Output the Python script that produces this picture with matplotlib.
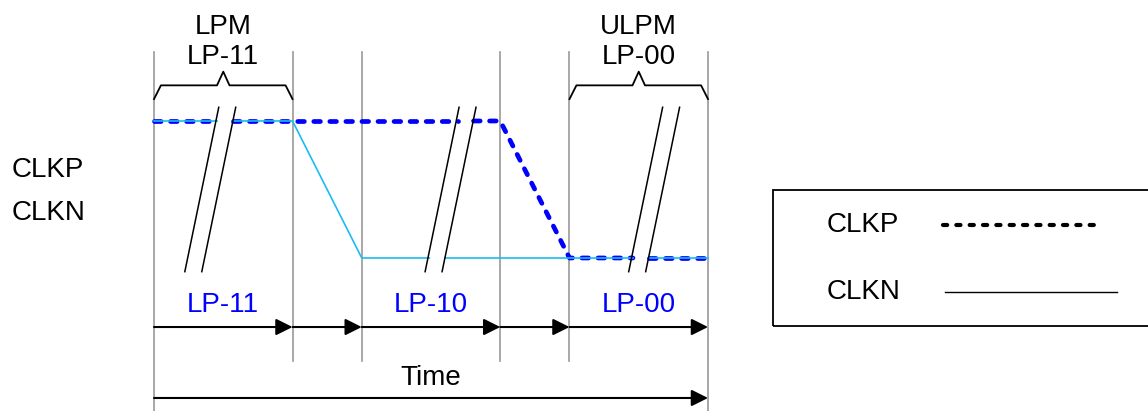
import matplotlib.pyplot as plt
from matplotlib.patches import Rectangle

plt.rcParams['font.family'] = ['Liberation Sans', 'DejaVu Sans']

# timeline (time units), signal levels: 1 = high, 0 = low
phase_edges = [0, 2, 3, 5, 6, 8]
phase_labels = ['LP-11', '', 'LP-10', '', 'LP-00']
clkp_t = [0, 5, 6, 8]
clkp_v = [1, 1, 0, 0]
clkn_t = [0, 2, 3, 8]
clkn_v = [1, 1, 0, 0]
break_t = [0.81, 4.28, 7.22]
bracket_phase = [0, 4]
bracket_text = ['LPM\nLP-11', 'ULPM\nLP-00']

BLUE = '#0000FF'
CYAN = '#19BDF0'
GRAY = '#999999'
FS = 20

fig = plt.figure(figsize=(11.48, 4.11), dpi=100)
ax = fig.add_axes([0, 0, 1, 1])
ax.set_xlim(-2.224, 14.354)
ax.set_ylim(-1.117, 1.883)
ax.axis('off')

# vertical phase boundaries
for i, t in enumerate(phase_edges):
    bottom = -1.12 if i in (0, len(phase_edges) - 1) else -0.752
    ax.plot([t, t], [bottom, 1.504], color=GRAY, lw=1.2, zorder=1)


def split_at_breaks(ts, vs):
    # cut the polyline around each break mark
    segs = []
    cur_t, cur_v = [ts[0]], [vs[0]]
    for k in range(1, len(ts)):
        t0, t1 = ts[k - 1], ts[k]
        v = vs[k]
        if vs[k - 1] == v:
            for b in break_t:
                bx = b + 0.49 * (v - 0.5) / 1.2
                if t0 < bx < t1:
                    cur_t.append(bx - 0.1)
                    cur_v.append(v)
                    segs.append((cur_t, cur_v))
                    cur_t, cur_v = [bx + 0.13], [v]
        cur_t.append(t1)
        cur_v.append(v)
    segs.append((cur_t, cur_v))
    return segs


for st, sv in split_at_breaks(clkp_t, clkp_v):
    ax.plot(st, sv, color=BLUE, lw=3.4, dashes=(1.4, 2.0),
            dash_capstyle='round', zorder=3)
for st, sv in split_at_breaks(clkn_t, clkn_v):
    ax.plot(st, sv, color=CYAN, lw=1.2, zorder=4)

# break marks
for b in break_t:
    for off in (-0.12, 0.125):
        ax.plot([b + off + 0.245, b + off - 0.245], [1.10, -0.10],
                color='black', lw=1.1, zorder=5)

# brackets over LPM / ULPM
for p, txt in zip(bracket_phase, bracket_text):
    t0, t1 = phase_edges[p], phase_edges[p + 1]
    mid = (t0 + t1) / 2
    bx = [t0, t0 + 0.1, mid - 0.09, mid, mid + 0.09, t1 - 0.1, t1]
    by = [1.16, 1.26, 1.26, 1.36, 1.26, 1.26, 1.16]
    ax.plot(bx, by, color='black', lw=1.3)
    ax.text(mid, 1.575, txt, ha='center', va='center', fontsize=FS,
            linespacing=1.2)

# signal names
ax.text(-2.05, 0.642, 'CLKP', ha='left', va='center', fontsize=FS)
ax.text(-2.05, 0.328, 'CLKN', ha='left', va='center', fontsize=FS)

# phase arrows and labels
arrow = dict(arrowstyle='-|>,head_length=1.0,head_width=0.5', mutation_scale=10,
             lw=1.5, color='black', shrinkA=0, shrinkB=0)
for k in range(len(phase_edges) - 1):
    t0, t1 = phase_edges[k], phase_edges[k + 1]
    ax.annotate('', xy=(t1, -0.504), xytext=(t0, -0.504), arrowprops=arrow)
    if phase_labels[k]:
        ax.text((t0 + t1) / 2, -0.343, phase_labels[k], color=BLUE,
                ha='center', va='center', fontsize=FS)

ax.annotate('', xy=(phase_edges[-1], -1.022), xytext=(phase_edges[0], -1.022),
            arrowprops=arrow)
ax.text((phase_edges[0] + phase_edges[-1]) / 2, -0.876, 'Time',
        ha='center', va='center', fontsize=FS)

# legend box
ax.add_patch(Rectangle((8.941, -0.496), 6.0, 0.993, fill=False,
                       edgecolor='black', lw=1.3))
ax.text(9.716, 0.241, 'CLKP', ha='left', va='center', fontsize=FS)
ax.text(9.716, -0.248, 'CLKN', ha='left', va='center', fontsize=FS)
ax.plot([11.39, 13.66], [0.241, 0.241], color='black', lw=3.0,
        dashes=(1.0, 2.2), dash_capstyle='round')
ax.plot([11.42, 13.91], [-0.248, -0.248], color='black', lw=1.0)

fig.savefig('out.png', dpi=100)
